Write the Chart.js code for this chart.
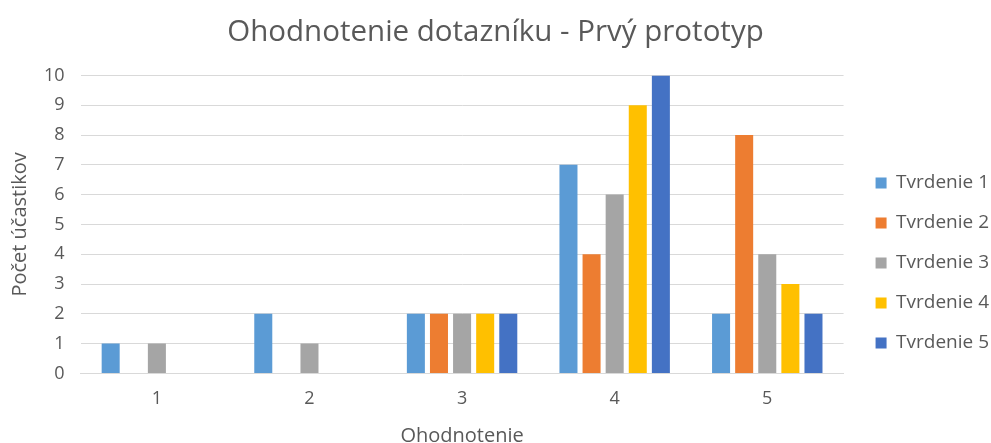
<!DOCTYPE html>
<html>
<head>
<meta charset="utf-8">
<script src="https://cdn.jsdelivr.net/npm/chart.js@4.4.1/dist/chart.umd.min.js"></script>
<style>
  html, body { margin: 0; padding: 0; background: #fff; }
  #wrap { width: 991px; height: 443px; position: relative; }
</style>
</head>
<body>
<div id="wrap"><canvas id="c"></canvas></div>
<script>
// Ratings on the survey scale (1-5)
const categories = ['1', '2', '3', '4', '5'];

// Number of participants choosing each rating, per statement
const tvrdenie1 = [1, 2, 2, 7, 2];
const tvrdenie2 = [0, 0, 2, 4, 8];
const tvrdenie3 = [1, 1, 2, 6, 4];
const tvrdenie4 = [0, 0, 2, 9, 3];
const tvrdenie5 = [0, 0, 2, 10, 2];

const seriesNames = ['Tvrdenie 1', 'Tvrdenie 2', 'Tvrdenie 3', 'Tvrdenie 4', 'Tvrdenie 5'];
const seriesColors = ['#5b9bd5', '#ed7d31', '#a5a5a5', '#ffc000', '#4472c4'];
const seriesValues = [tvrdenie1, tvrdenie2, tvrdenie3, tvrdenie4, tvrdenie5];

const font = "'Open Sans', sans-serif";
const textColor = '#595959';

new Chart(document.getElementById('c'), {
  type: 'bar',
  data: {
    labels: categories,
    datasets: seriesValues.map((vals, i) => ({
      label: seriesNames[i],
      data: vals,
      backgroundColor: seriesColors[i],
      borderWidth: 0,
      categoryPercentage: 0.757,
      barPercentage: 0.78
    }))
  },
  options: {
    responsive: true,
    maintainAspectRatio: false,
    animation: false,
    layout: { padding: { left: -8, right: -8, top: 6, bottom: -9 } },
    plugins: {
      title: {
        display: true,
        text: 'Ohodnotenie dotazníku - Prvý prototyp',
        color: textColor,
        font: { family: font, size: 29.5, weight: 'normal' },
        padding: { top: 9, bottom: 25 }
      },
      legend: {
        position: 'right',
        align: 'end',
        fullSize: false,
        labels: {
          color: textColor,
          font: { family: font, size: 19 },
          boxWidth: 11,
          boxHeight: 11,
          padding: 21
        }
      },
      tooltip: { enabled: false }
    },
    scales: {
      x: {
        grid: { display: false, drawTicks: false },
        border: { display: true, color: '#d9d9d9' },
        ticks: { color: textColor, font: { family: font, size: 18 }, padding: 15 },
        title: {
          display: true,
          text: 'Ohodnotenie',
          color: textColor,
          font: { family: font, size: 20 },
          padding: { top: -1, bottom: 4 }
        }
      },
      y: {
        min: 0,
        max: 10,
        grid: { color: '#d9d9d9', drawTicks: false },
        border: { display: false },
        ticks: { stepSize: 1, color: textColor, font: { family: font, size: 18 }, padding: 16 },
        title: {
          display: true,
          text: 'Počet účastikov',
          color: textColor,
          font: { family: font, size: 20 },
          padding: { top: 16, bottom: -4 }
        }
      },
      // empty spacer between the plot area and the legend
      gap: {
        type: 'linear',
        position: 'right',
        display: true,
        grid: { display: false },
        border: { display: false },
        ticks: { display: false },
        afterFit: (scale) => { scale.width = 11; }
      }
    }
  }
});
</script>
</body>
</html>
